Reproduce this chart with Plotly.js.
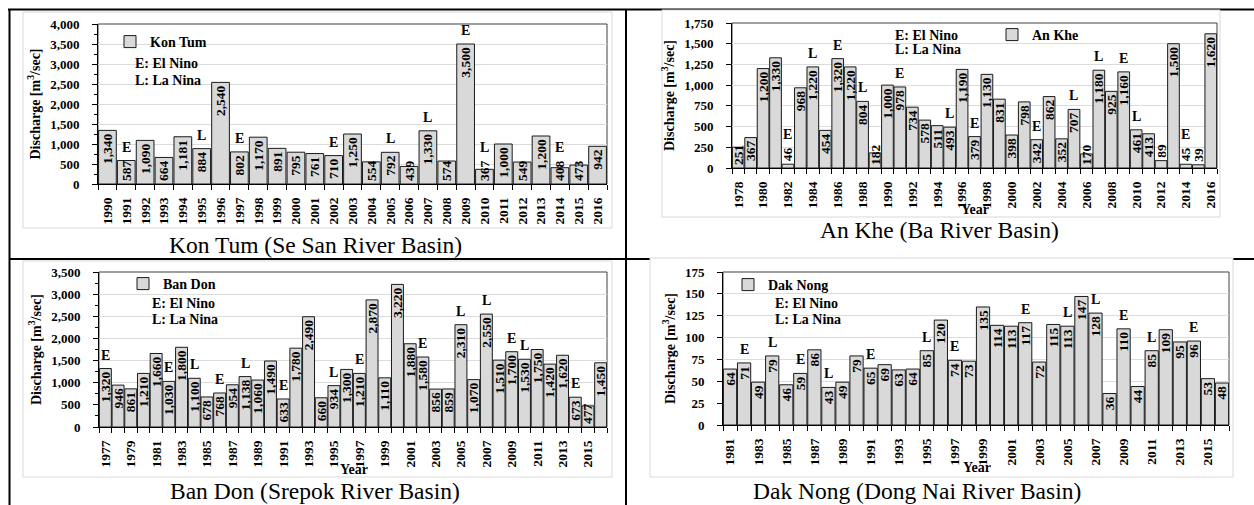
<!DOCTYPE html>
<html>
<head>
<meta charset="utf-8">
<script src="https://cdn.plot.ly/plotly-3.0.1.min.js"></script>
<style>
html,body{margin:0;padding:0;background:#fff;}
#chart{width:1254px;height:505px;}
</style>
</head>
<body>
<div id="chart"></div>
<script>
// ---------------- DATA ----------------
const konTumYears = [1990,1991,1992,1993,1994,1995,1996,1997,1998,1999,2000,2001,2002,2003,2004,2005,2006,2007,2008,2009,2010,2011,2012,2013,2014,2015,2016];
const konTumFlow  = [1340,587,1090,664,1181,884,2540,802,1170,891,795,761,710,1250,554,792,439,1330,574,3500,367,1000,549,1200,408,473,942];
const konTumEnso  = ['','E','','','','L','','E','','','','','E','','','L','','L','','E','L','','','','E','',''];

const anKheYears = [1978,1979,1980,1981,1982,1983,1984,1985,1986,1987,1988,1989,1990,1991,1992,1993,1994,1995,1996,1997,1998,1999,2000,2001,2002,2003,2004,2005,2006,2007,2008,2009,2010,2011,2012,2013,2014,2015,2016];
const anKheFlow  = [251,367,1200,1330,46,968,1220,454,1320,1220,804,182,1000,978,734,578,511,493,1190,379,1130,831,398,798,342,862,352,707,170,1180,925,1160,461,413,89,1500,45,39,1620];
const anKheEnso  = ['','','','','E','','L','','E','','L','','','E','','','','L','','E','','','','','E','','','L','','L','','E','L','','','','E','',''];

const banDonYears = [1977,1978,1979,1980,1981,1982,1983,1984,1985,1986,1987,1988,1989,1990,1991,1992,1993,1994,1995,1996,1997,1998,1999,2000,2001,2002,2003,2004,2005,2006,2007,2008,2009,2010,2011,2012,2013,2014,2015,2016];
const banDonFlow  = [1320,946,861,1210,1660,1030,1800,1100,678,768,954,1138,1060,1490,633,1780,2490,660,934,1300,1210,2870,1110,3220,1880,1580,856,859,2310,1070,2550,1510,1700,1530,1750,1420,1620,673,477,1450];
const banDonEnso  = ['E','','','','','E','','L','','E','','L','','','E','','','','L','','E','','','','','E','','','L','','L','','E','L','','','','E','',''];

const dakNongYears = [1981,1982,1983,1984,1985,1986,1987,1988,1989,1990,1991,1992,1993,1994,1995,1996,1997,1998,1999,2000,2001,2002,2003,2004,2005,2006,2007,2008,2009,2010,2011,2012,2013,2014,2015,2016];
const dakNongFlow  = [64,71,49,79,46,59,86,43,49,79,65,69,63,64,85,120,74,73,135,114,113,117,72,115,113,147,128,36,110,44,85,109,95,96,53,48];
const dakNongEnso  = ['','E','','L','','E','','L','','','E','','','','L','','E','','','','','E','','','L','','L','','E','','L','','','E','',''];

const seriesNames = ['Kon Tum','An Khe','Ban Don','Dak Nong'];
const captions = ['Kon Tum (Se San River Basin)','An Khe (Ba River Basin)','Ban Don (Srepok River Basin)','Dak Nong (Dong Nai River Basin)'];
const ensoLegend = ['E: El Nino','L: La Nina'];
const yTitle = 'Discharge [m<sup>3</sup>/sec]';
const xTitle = 'Year';

// ---------------- STYLE / LAYOUT ----------------
const W = 1254, H = 505;
const SERIF = 'Liberation Serif, Times New Roman, Times, serif';
const px = v => v / W;
const py = v => 1 - v / H;
const LABEL_SIZE = 13.5;
const BAR_FILL = '#d9d9d9';

const panels = [
  {years: konTumYears, flow: konTumFlow, enso: konTumEnso, ymax: 4000, dtick: 500, minor: 250, xdtick: 1,
   plot: [98, 607, 24, 184], area: [23, 612, 12, 228], cap: [315, 245], year: null,
   leg: [110, 42], ens: [133, 63, 80]},
  {years: anKheYears, flow: anKheFlow, enso: anKheEnso, ymax: 1750, dtick: 250, minor: 0, xdtick: 2,
   plot: [732, 1217, 23, 168], area: [662, 1220, 10, 217], cap: [939, 230], year: [975, 210],
   leg: [992, 35], ens: [893, 35, 50]},
  {years: banDonYears, flow: banDonFlow, enso: banDonEnso, ymax: 3500, dtick: 500, minor: 250, xdtick: 2,
   plot: [99, 607, 272, 427], area: [23, 612, 261, 477], cap: [315, 491], year: [354, 469],
   leg: [123, 284], ens: [150, 303, 319]},
  {years: dakNongYears, flow: dakNongFlow, enso: dakNongEnso, ymax: 175, dtick: 25, minor: 0, xdtick: 2,
   plot: [723, 1229, 272, 425], area: [650, 1233, 258, 477], cap: [917, 491], year: [977, 467],
   leg: [728, 285], ens: [773, 303, 319]}
];

function fmt(v) { return v.toLocaleString('en-US'); }
function labelLen(s) { let n = 0; for (const c of s) n += (c === ',' ? 0.25 : 0.5); return n * LABEL_SIZE; }

const traces = [];
const annotations = [];
const shapes = [];
const layout = {
  width: W, height: H,
  margin: {l: 0, r: 0, t: 0, b: 0},
  paper_bgcolor: '#fff', plot_bgcolor: 'rgba(0,0,0,0)',
  font: {family: SERIF, color: '#000'},
  barmode: 'overlay', bargap: 0.06,
  hovermode: false,
  annotations: annotations, shapes: shapes
};

// table frame lines
const frameLine = {color: '#000', width: 2};
shapes.push({type: 'line', xref: 'paper', yref: 'paper', x0: px(8), x1: 1, y0: py(9.5), y1: py(9.5), line: frameLine, layer: 'below'});
shapes.push({type: 'line', xref: 'paper', yref: 'paper', x0: px(9.5), x1: px(9.5), y0: py(9), y1: 0, line: frameLine, layer: 'below'});
shapes.push({type: 'line', xref: 'paper', yref: 'paper', x0: px(626), x1: px(626), y0: py(9), y1: 0, line: frameLine, layer: 'below'});
shapes.push({type: 'line', xref: 'paper', yref: 'paper', x0: px(9), x1: 1, y0: py(259), y1: py(259), line: frameLine, layer: 'below'});

const boldFont = (size) => ({family: SERIF, size: size, weight: 'bold', color: '#000'});

panels.forEach((p, k) => {
  const s = k === 0 ? '' : String(k + 1);
  const xa = 'x' + s, ya = 'y' + s;
  const plotH = p.plot[3] - p.plot[2];

  // chart area box
  shapes.push({type: 'rect', xref: 'paper', yref: 'paper', x0: px(p.area[0]), x1: px(p.area[1]),
    y0: py(p.area[3]), y1: py(p.area[2]), fillcolor: '#fff', line: {color: '#d9d9d9', width: 1}, layer: 'below'});
  // plot area border
  shapes.push({type: 'rect', xref: xa + ' domain', yref: ya + ' domain', x0: 0, x1: 1, y0: 0, y1: 1,
    line: {color: '#404040', width: 1}, fillcolor: 'rgba(0,0,0,0)', layer: 'below'});

  // label placement per bar
  const text1 = [], pos1 = [], text2 = [], pos2 = [];
  p.flow.forEach((v, i) => {
    const t = fmt(v);
    const L = labelLen(t);
    const barH = v / p.ymax * plotH;
    let top;
    if (barH >= L + 6) { text1.push(t); pos1.push('inside'); text2.push(t); pos2.push('none'); top = barH; }
    else if (barH >= 10) { text1.push(t); pos1.push('none'); text2.push(t); pos2.push('inside'); top = Math.max(barH, 3 + L); }
    else { text1.push(t); pos1.push('outside'); text2.push(t); pos2.push('none'); top = barH + 3 + L; }
    if (p.enso[i]) {
      annotations.push({xref: xa, yref: ya, x: p.years[i], y: v, text: p.enso[i], showarrow: false,
        xanchor: 'center', yanchor: 'bottom', yshift: (top - barH) + 4, font: boldFont(14)});
    }
  });

  const tfont = boldFont(LABEL_SIZE);
  traces.push({
    type: 'bar', name: seriesNames[k], x: p.years, y: p.flow, xaxis: xa, yaxis: ya,
    legend: 'legend' + s,
    marker: {color: BAR_FILL, line: {color: '#1a1a1a', width: 1}},
    text: text1, textposition: pos1, textangle: -90, insidetextanchor: 'end',
    constraintext: 'none', cliponaxis: false,
    textfont: tfont, insidetextfont: tfont, outsidetextfont: tfont,
    hoverinfo: 'skip'
  });
  traces.push({
    type: 'bar', name: seriesNames[k] + ' labels', x: p.years, y: p.flow, xaxis: xa, yaxis: ya,
    showlegend: false,
    marker: {color: 'rgba(0,0,0,0)', line: {width: 0}},
    text: text2, textposition: pos2, textangle: -90, insidetextanchor: 'start',
    constraintext: 'none', cliponaxis: false,
    textfont: tfont, insidetextfont: tfont,
    hoverinfo: 'skip'
  });

  const y0 = p.years[0], y1 = p.years[p.years.length - 1];
  layout['xaxis' + s] = {
    domain: [px(p.plot[0]), px(p.plot[1])], anchor: ya,
    range: [y0 - 0.5, y1 + 0.5], tickmode: 'linear', tick0: y0, dtick: p.xdtick, tickformat: 'd',
    ticks: '', tickangle: -90, ticklabelstandoff: 7,
    tickfont: boldFont(13.5),
    showline: true, linecolor: '#000', linewidth: 1, showgrid: false, zeroline: false,
    minor: {tick0: y0 - 0.5, dtick: 1, ticks: 'outside', ticklen: 5, tickcolor: '#000', showgrid: false},
    fixedrange: true
  };
  const yax = {
    domain: [py(p.plot[3]), py(p.plot[2])], anchor: xa,
    range: [0, p.ymax], tickmode: 'linear', tick0: 0, dtick: p.dtick, tickformat: ',d',
    ticks: 'outside', ticklen: 5, tickcolor: '#000', ticklabelstandoff: 10,
    tickfont: boldFont(13),
    showline: true, linecolor: '#000', linewidth: 1,
    showgrid: true, gridcolor: '#dcdcdc', gridwidth: 1, zeroline: false,
    title: {text: yTitle, standoff: 6, font: boldFont(14)},
    fixedrange: true
  };
  if (p.minor) yax.minor = {dtick: p.minor, ticks: 'outside', ticklen: 3, tickcolor: '#000', showgrid: false};
  layout['yaxis' + s] = yax;

  layout['legend' + s] = {
    x: px(p.leg[0]), y: py(p.leg[1]), xanchor: 'left', yanchor: 'middle',
    bgcolor: 'rgba(0,0,0,0)', borderwidth: 0, itemwidth: 30,
    font: boldFont(14)
  };

  ensoLegend.forEach((t, j) => {
    annotations.push({xref: 'paper', yref: 'paper', x: px(p.ens[0]), y: py(p.ens[1 + j]), text: t,
      showarrow: false, xanchor: 'left', yanchor: 'middle', font: boldFont(14)});
  });

  if (p.year) {
    annotations.push({xref: 'paper', yref: 'paper', x: px(p.year[0]), y: py(p.year[1]), text: xTitle,
      showarrow: false, xanchor: 'center', yanchor: 'middle', font: boldFont(14)});
  }

  annotations.push({xref: 'paper', yref: 'paper', x: px(p.cap[0]), y: py(p.cap[1]), text: captions[k],
    showarrow: false, xanchor: 'center', yanchor: 'middle',
    font: {family: SERIF, size: 23.5, color: '#000'}});
});

Plotly.newPlot('chart', traces, layout, {staticPlot: true, displayModeBar: false});
</script>
</body>
</html>
